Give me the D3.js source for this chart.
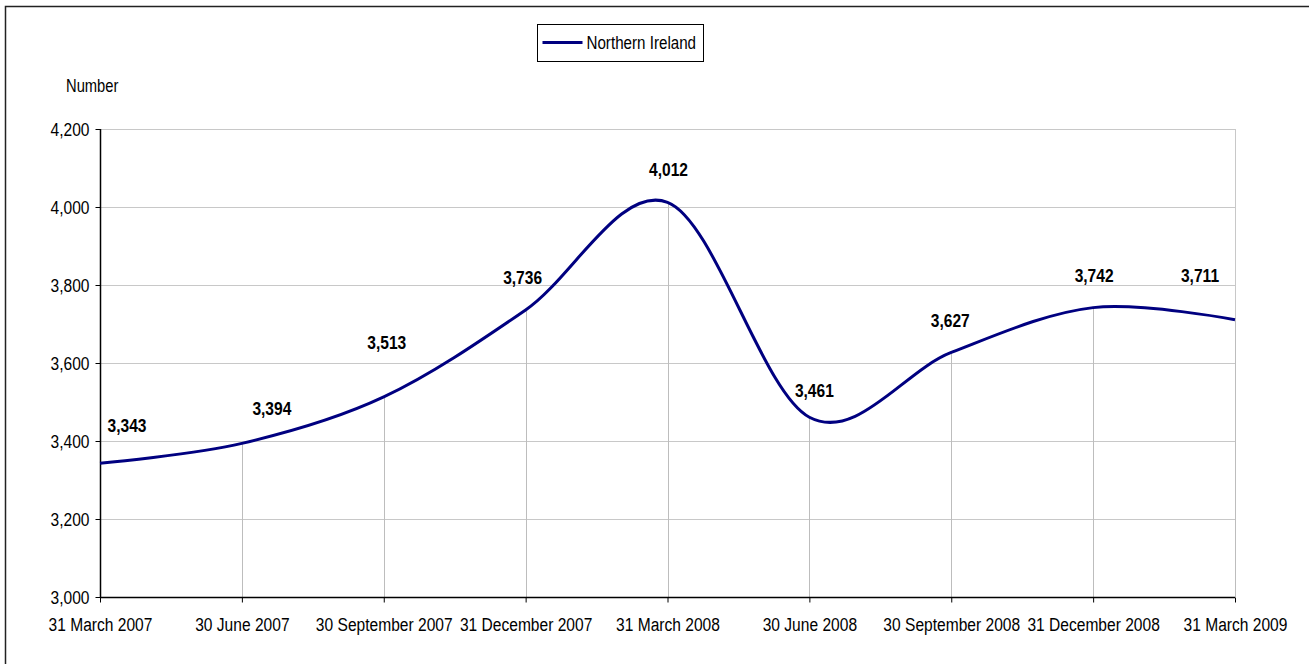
<!DOCTYPE html>
<html>
<head>
<meta charset="utf-8">
<script src="https://cdn.jsdelivr.net/npm/d3@7"></script>
<style>
  body { margin: 0; background: #fff; }
  svg { display: block; font-family: "Liberation Sans", Arial, sans-serif; }
</style>
</head>
<body>
<div id="chart"></div>
<script>
// data
var quarters = ['31 March 2007', '30 June 2007', '30 September 2007', '31 December 2007',
  '31 March 2008', '30 June 2008', '30 September 2008', '31 December 2008', '31 March 2009'];
var niValues = [3343, 3394, 3513, 3736, 4012, 3461, 3627, 3742, 3711];
var yTicks = [3000, 3200, 3400, 3600, 3800, 4000, 4200];
var seriesName = 'Northern Ireland';
var yTitle = 'Number';

var W = 1309, H = 664;
var plot = { left: 100, right: 1235, top: 129, bottom: 597 };
var lineColor = '#000080';
var narrow = 0.82; // original uses a narrow face, squeeze the text to match

var svg = d3.select('#chart').append('svg')
  .attr('width', W)
  .attr('height', H);

// outer chart frame (only top/left fall inside the picture)
svg.append('rect')
  .attr('x', 5.5).attr('y', 6.5)
  .attr('width', W + 20).attr('height', H + 20)
  .style('fill', 'none')
  .style('stroke', '#222')
  .style('stroke-width', 1.5);

var x = d3.scalePoint()
  .domain(quarters)
  .range([plot.left, plot.right]);

var y = d3.scaleLinear()
  .domain([3000, 4200])
  .range([plot.bottom, plot.top]);

/* gridlines */
svg.append('g').selectAll('line')
  .data(yTicks.slice(1))
  .enter().append('line')
  .attr('x1', plot.left).attr('x2', plot.right)
  .attr('y1', function (d) { return Math.round(y(d)) + 0.5; })
  .attr('y2', function (d) { return Math.round(y(d)) + 0.5; })
  .style('stroke', '#c8c8c8')
  .style('stroke-width', 1);

// plot area right edge
svg.append('line')
  .attr('x1', plot.right + 0.5).attr('x2', plot.right + 0.5)
  .attr('y1', plot.top).attr('y2', plot.bottom)
  .style('stroke', '#c8c8c8');

/* drop lines */
svg.append('g').selectAll('line')
  .data(niValues)
  .enter().append('line')
  .attr('x1', function (d, i) { return Math.round(x(quarters[i])) + 0.5; })
  .attr('x2', function (d, i) { return Math.round(x(quarters[i])) + 0.5; })
  .attr('y1', plot.bottom)
  .attr('y2', function (d) { return y(d); })
  .style('stroke', '#bdbdbd')
  .style('stroke-width', 1);

/* axes */
var yAxis = d3.axisLeft(y)
  .tickValues(yTicks)
  .tickSize(5)
  .tickPadding(6)
  .tickFormat(d3.format(','));

var gy = svg.append('g')
  .attr('transform', 'translate(' + (plot.left + 0.5) + ',0)')
  .call(yAxis);

var xAxis = d3.axisBottom(x)
  .tickSize(5)
  .tickPadding(15);

var gx = svg.append('g')
  .attr('transform', 'translate(0,' + (plot.bottom + 0.5) + ')')
  .call(xAxis);

[gy, gx].forEach(function (g) {
  g.selectAll('path.domain').style('stroke', '#000').style('stroke-width', 1.5);
  g.selectAll('.tick line').style('stroke', '#000');
  g.selectAll('.tick text')
    .style('font-family', '"Liberation Sans", Arial, sans-serif')
    .style('font-size', '19px')
    .style('fill', '#000');
});
gy.select('path.domain').attr('d', 'M0,' + plot.top + 'V' + plot.bottom);
gx.select('path.domain').attr('d', 'M' + plot.left + ',0H' + plot.right);

svg.append('text')
  .attr('x', 66)
  .attr('y', 92)
  .style('font-size', '18px')
  .text(yTitle);

/* series line */
var line = d3.line()
  .x(function (d, i) { return x(quarters[i]); })
  .y(function (d) { return y(d); })
  .curve(d3.curveCardinal.tension(0));

svg.append('path')
  .datum(niValues)
  .attr('d', line)
  .style('fill', 'none')
  .style('stroke', lineColor)
  .style('stroke-width', 3)
  .style('stroke-linejoin', 'round');

/* data labels (hand placed in the original, so nudge each one) */
var labelNudge = [[27, -31], [30, -28], [3, -48], [-3, -26], [1, -26],
  [5, -20], [-1, -25], [1, -26], [-35, -38]];

svg.append('g').selectAll('text')
  .data(niValues)
  .enter().append('text')
  .attr('x', function (d, i) { return x(quarters[i]) + labelNudge[i][0]; })
  .attr('y', function (d, i) { return y(d) + labelNudge[i][1]; })
  .attr('text-anchor', 'middle')
  .style('font-size', '19px')
  .style('font-weight', 'bold')
  .text(d3.format(','));

/* legend */
var legend = svg.append('g').attr('transform', 'translate(537.5,24.5)');
legend.append('rect')
  .attr('width', 166).attr('height', 37)
  .style('fill', '#fff')
  .style('stroke', '#000');
legend.append('line')
  .attr('x1', 5).attr('x2', 45)
  .attr('y1', 18).attr('y2', 18)
  .style('stroke', lineColor)
  .style('stroke-width', 3);
legend.append('text')
  .attr('x', 49)
  .attr('y', 24.5)
  .style('font-size', '18.5px')
  .text(seriesName);

// squeeze every text horizontally around its own anchor point
svg.selectAll('text').each(function () {
  var ax = +this.getAttribute('x') || 0;
  d3.select(this).attr('transform',
    'translate(' + ax + ',0) scale(' + narrow + ',1) translate(' + (-ax) + ',0)');
});
</script>
</body>
</html>
